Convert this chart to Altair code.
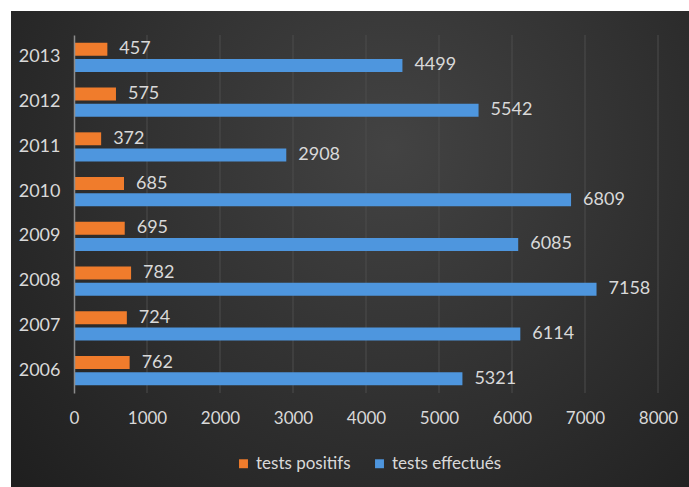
import altair as alt
import pandas as pd

# Annual test counts
years = [2006, 2007, 2008, 2009, 2010, 2011, 2012, 2013]
positifs = [762, 724, 782, 695, 685, 372, 575, 457]
effectues = [5321, 6114, 7158, 6085, 6809, 2908, 5542, 4499]
series_names = ["tests positifs", "tests effectués"]
series_colors = ["#F07C2C", "#4E96DE"]
x_ticks = [0, 1000, 2000, 3000, 4000, 5000, 6000, 7000, 8000]

rows = []
for yr, p, e in zip(years, positifs, effectues):
    rows.append({"annee": str(yr), "serie": series_names[0], "valeur": p})
    rows.append({"annee": str(yr), "serie": series_names[1], "valeur": e})
df = pd.DataFrame(rows)

W, H = 584, 358
PAD = {"left": 74, "top": 35, "right": 31, "bottom": 94}
FONT = "Lato, Liberation Sans Narrow, DejaVu Sans Condensed, sans-serif"
TXT = "#d9d9d9"

year_order = [str(y) for y in reversed(years)]

# dark panel with a soft radial gradient behind everything
panel = alt.Chart(pd.DataFrame({"k": [0]})).mark_rect(
    fill=alt.RadialGradient(
        gradient="radial",
        stops=[
            alt.GradientStop(offset=0, color="#434343"),
            alt.GradientStop(offset=1, color="#1d1d1d"),
        ],
        x1=0.56, y1=0.35, r1=0.0,
        x2=0.56, y2=0.35, r2=0.78,
    )
).encode(
    x=alt.value(11 - PAD["left"]),
    x2=alt.value(W + PAD["right"]),
    y=alt.value(11 - PAD["top"]),
    y2=alt.value(H + PAD["bottom"]),
)

# white page margin along the top and left edges
margin_top = alt.Chart(pd.DataFrame({"k": [0]})).mark_rect(color="white").encode(
    x=alt.value(-PAD["left"]), x2=alt.value(W + PAD["right"]),
    y=alt.value(-PAD["top"]), y2=alt.value(11 - PAD["top"]),
)
margin_left = alt.Chart(pd.DataFrame({"k": [0]})).mark_rect(color="white").encode(
    x=alt.value(-PAD["left"]), x2=alt.value(11 - PAD["left"]),
    y=alt.value(-PAD["top"]), y2=alt.value(H + PAD["bottom"]),
)

grid = alt.Chart(pd.DataFrame({"t": x_ticks[1:]})).mark_rule(
    color="#4d4d4d", strokeWidth=1
).encode(x=alt.X("t:Q", scale=alt.Scale(domain=[0, 8000], nice=False)))

x_enc = alt.X(
    "valeur:Q",
    scale=alt.Scale(domain=[0, 8000], nice=False),
    axis=alt.Axis(
        title=None, values=x_ticks, format="d", grid=False, domain=False,
        ticks=False, labelColor=TXT, labelFontSize=17, labelFont=FONT,
        labelPadding=17, labelFlush=False, zindex=1,
    ),
)
y_enc = alt.Y(
    "annee:N",
    sort=year_order,
    scale=alt.Scale(paddingInner=0.35, paddingOuter=0.175),
    axis=alt.Axis(
        title=None, ticks=False, grid=False, domainColor="#8c8c8c",
        domainWidth=1.5, labelColor=TXT, labelFontSize=18, labelFont=FONT,
        labelPadding=14, zindex=1,
    ),
)
yoff = alt.YOffset(
    "serie:N", sort=series_names,
    scale=alt.Scale(domain=series_names, paddingInner=0.2, paddingOuter=0),
)

bars = alt.Chart(df).mark_bar().encode(
    x=x_enc,
    y=y_enc,
    yOffset=yoff,
    color=alt.Color(
        "serie:N",
        scale=alt.Scale(domain=series_names, range=series_colors),
        legend=alt.Legend(
            title=None, orient="none", direction="horizontal",
            legendX=161, legendY=420, symbolType="square", symbolSize=80,
            symbolStrokeWidth=0, labelColor=TXT, labelFontSize=17,
            labelFont=FONT, columnPadding=20, labelOffset=4,
        ),
    ),
)

labels = alt.Chart(df).mark_text(
    align="left", baseline="middle", dx=12, color=TXT, fontSize=18, font=FONT
).encode(
    x="valeur:Q",
    y=alt.Y("annee:N", sort=year_order),
    yOffset=alt.YOffset("serie:N", sort=series_names),
    text="valeur:Q",
)

chart = alt.layer(panel, margin_top, margin_left, grid, bars, labels).properties(
    width=W,
    height=H,
    padding=PAD,
    autosize=alt.AutoSizeParams(type="none"),
    background="#262626",
).configure_view(stroke=None)

chart.save("out.html", embed_options={"renderer": "svg", "actions": False})
